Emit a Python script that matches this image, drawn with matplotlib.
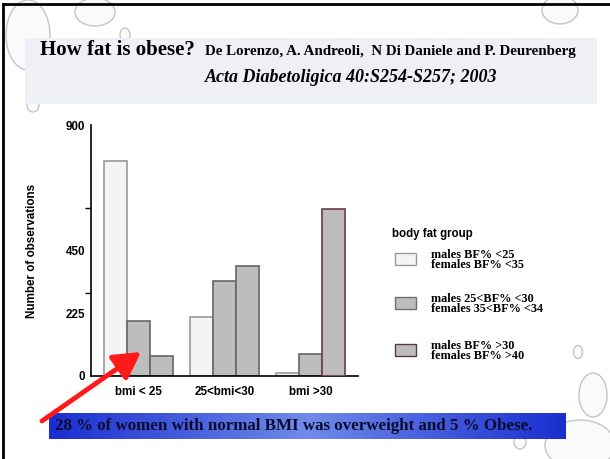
import numpy as np
import matplotlib.pyplot as plt
from matplotlib.patches import Rectangle, Ellipse
from matplotlib.colors import LinearSegmentedColormap

# Datos
grupos = ["bmi < 25", "25<bmi<30", "bmi >30"]
bf_bajo = [772, 213, 12]
bf_medio = [196, 340, 78]
bf_alto = [72, 396, 598]

leyenda = [
    "males BF% <25\nfemales BF% <35",
    "males 25<BF% <30\nfemales 35<BF% <34",
    "males BF% >30\nfemales BF% >40",
]

W, H = 610, 459
fig = plt.figure(figsize=(6.1, 4.59), dpi=100)
fig.patch.set_facecolor("white")

# capa de fondo en pixeles
bg = fig.add_axes([0, 0, 1, 1])
bg.axis("off")

# gotas decorativas
gotas = [(28, 35, 44, 70), (95, 12, 40, 28), (125, 35, 10, 14), (33, 105, 12, 14),
         (560, 10, 36, 28), (578, 352, 9, 13), (593, 395, 28, 44), (580, 445, 70, 50),
         (520, 442, 12, 14)]
for (cx, cy, w, h) in gotas:
    bg.add_patch(Ellipse((cx, cy), w, h, facecolor="#fafafa", edgecolor="#c4c4c4", lw=1.0, zorder=1))

# borde negro
bg.plot([3, W], [4, 4], color="black", lw=2, zorder=2)
bg.plot([3, 3], [4, H], color="black", lw=2, zorder=2)

# cuadro del titulo
bg.add_patch(Rectangle((25, 38), 572, 66, facecolor="#eef0f5", edgecolor="none", zorder=3))
bg.text(40, 50, "How fat is obese?", fontsize=15, fontweight="bold", family="Liberation Serif",
        va="center", zorder=4)
bg.text(205, 51, "De Lorenzo, A. Andreoli,  N Di Daniele and P. Deurenberg", fontsize=10.8,
        fontweight="bold", family="Liberation Serif", va="center", zorder=4)
bg.text(205, 77, "Acta Diabetoligica 40:S254-S257; 2003", fontsize=13, fontweight="bold",
        style="italic", family="Liberation Serif", va="center", zorder=4)

# banda azul con degradado
grad = np.abs(np.linspace(-1, 1, 200))[None, :]
azul = LinearSegmentedColormap.from_list("azul", ["#6f8ae8", "#1a2ed0"])
bg.imshow(grad, extent=(49, 566, 439, 413), aspect="auto", cmap=azul, zorder=3)
bg.set_xlim(0, W)
bg.set_ylim(H, 0)
bg.text(55, 426, "28 % of women with normal BMI was overweight and 5 % Obese.", fontsize=12.2,
        fontweight="bold", family="Liberation Serif", color="#0b0b30", va="center", zorder=4)

# leyenda
bg.text(392, 234, "body fat group", fontsize=8.3, fontweight="bold", family="Liberation Sans",
        va="center", zorder=4)
cols = ["#f4f4f4", "#bdbdbd", "#bdbdbd"]
edges = ["#9a9a9a", "#707070", "#5a3a45"]
ys = [259, 303, 350]
for lab, c, e, y in zip(leyenda, cols, edges, ys):
    bg.add_patch(Rectangle((395, y - 6), 21, 12, facecolor=c, edgecolor=e, lw=1, zorder=4))
    bg.text(431, y + 1, lab, fontsize=8.8, fontweight="bold", family="Liberation Serif",
            va="center", linespacing=0.8, zorder=4)

# grafico de barras
ax = fig.add_axes([91 / W, 1 - 376 / H, 267 / W, 251 / H])
ax.set_facecolor("none")
x = np.arange(len(grupos))
w = 0.267
ax.bar(x - w, bf_bajo, w, color="#f4f4f4", edgecolor="#9a9a9a", lw=1.2, zorder=2)
ax.bar(x, bf_medio, w, color="#bdbdbd", edgecolor="#666666", lw=1.2, zorder=2)
ax.bar(x[:2] + w, bf_alto[:2], w, color="#bdbdbd", edgecolor="#666666", lw=1.2, zorder=2)
ax.bar(x[2:] + w, bf_alto[2:], w, color="#bdbdbd", edgecolor="#6b3a4c", lw=1.2, zorder=3)

ax.set_xlim(-0.547, 2.553)
ax.set_ylim(0, 900)
for s in ["top", "right"]:
    ax.spines[s].set_visible(False)
ax.spines["left"].set_linewidth(1.2)
ax.spines["bottom"].set_linewidth(1.2)

ax.set_yticks([0, 225, 450, 900])
ax.set_yticklabels(["0", "225", "450", "900"], fontsize=8.4, fontweight="bold",
                   family="Liberation Sans")
ax.tick_params(axis="y", length=0, pad=4)
ax.set_yticks([298, 602, 900], minor=True)
ax.tick_params(axis="y", which="minor", length=4, width=1, direction="out")

ax.set_xticks(x)
ax.set_xticklabels(grupos, fontsize=8.4, fontweight="bold", family="Liberation Sans")
ax.tick_params(axis="x", length=3, direction="in", pad=7)

ax.set_ylabel("Number of observations", fontsize=8.4, fontweight="bold",
              family="Liberation Sans", labelpad=20)

# flecha roja
bg.set_zorder(0)
ax.set_zorder(1)
top = fig.add_axes([0, 0, 1, 1])
top.set_xlim(0, W)
top.set_ylim(H, 0)
top.axis("off")
top.set_zorder(2)
top.annotate("", xy=(141, 352), xytext=(42, 421),
             arrowprops=dict(arrowstyle="-|>,head_length=1.6,head_width=0.9", color="#ff1a1a",
                             lw=3.5, shrinkA=0, shrinkB=0))

fig.savefig("out.png", dpi=100)
